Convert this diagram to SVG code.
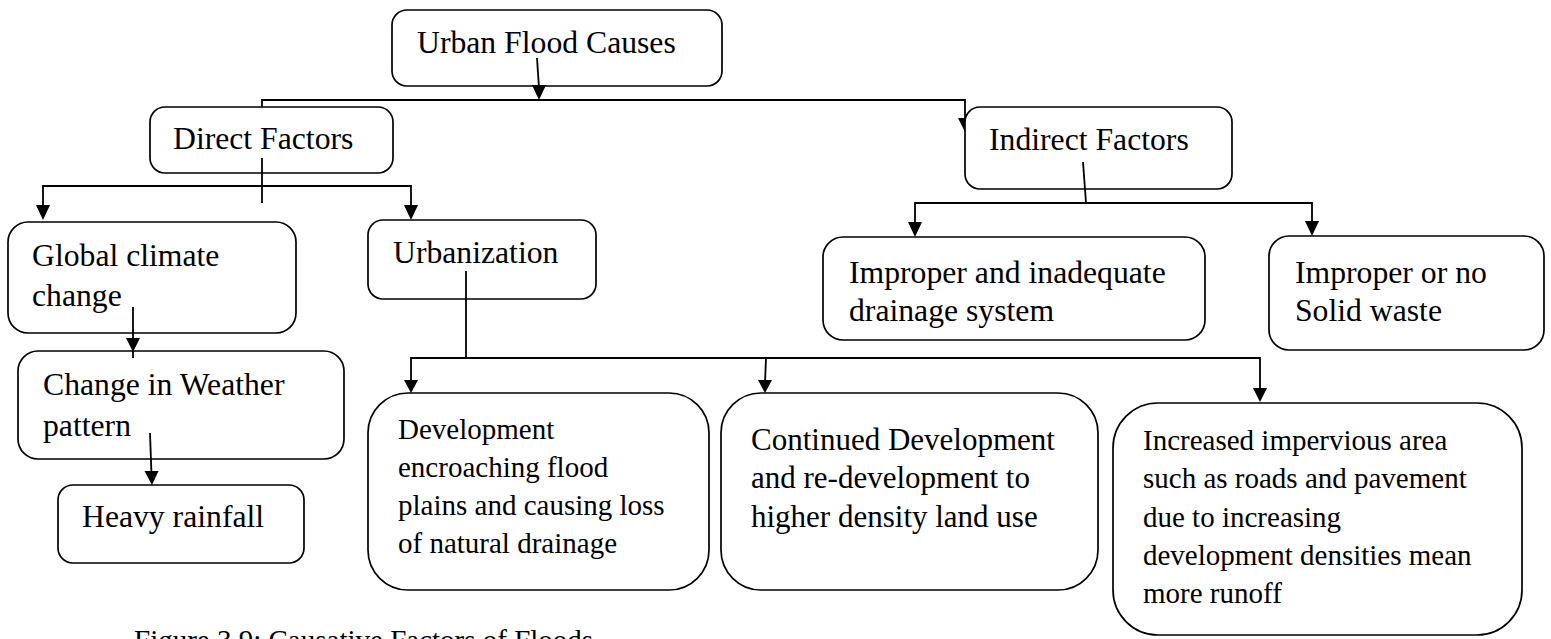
<svg xmlns="http://www.w3.org/2000/svg" width="1551" height="639" viewBox="0 0 1551 639">
<style>
  .box { fill: #ffffff; stroke: #000000; stroke-width: 1.7; }
  .t { font-family: "Liberation Serif", "Times New Roman", serif; font-size: 31.7px; fill: #000000; }
  .t2 { font-family: "Liberation Serif", "Times New Roman", serif; font-size: 29px; fill: #000000; }
  .t3 { font-family: "Liberation Serif", "Times New Roman", serif; font-size: 29px; fill: #000000; }
  .t4 { font-family: "Liberation Serif", "Times New Roman", serif; font-size: 31px; fill: #000000; }
  .cap { font-family: "Liberation Serif", "Times New Roman", serif; font-size: 29px; fill: #000000; }
  .c { fill: none; stroke: #000000; stroke-width: 1.8; }
  .ah { fill: #000000; stroke: none; }
</style>
<rect width="1551" height="639" fill="#ffffff"/>

<g id="node-urban-flood-causes">
  <rect class="box" x="392" y="10" width="330" height="76" rx="15"/>
  <text class="t" x="417" y="53">Urban Flood Causes</text>
</g>
<g id="node-direct-factors">
  <rect class="box" x="150" y="107" width="243" height="66" rx="15"/>
  <text class="t" x="173" y="149">Direct Factors</text>
</g>
<g id="node-indirect-factors">
  <rect class="box" x="965" y="107" width="267" height="82" rx="15"/>
  <text class="t" x="989" y="150">Indirect Factors</text>
</g>
<g id="node-global-climate">
  <rect class="box" x="8" y="222" width="288" height="111" rx="20"/>
  <text class="t" x="32" y="266">Global climate</text>
  <text class="t" x="32" y="306">change</text>
</g>
<g id="node-urbanization">
  <rect class="box" x="368" y="220" width="228" height="79" rx="15"/>
  <text class="t" x="393" y="263">Urbanization</text>
</g>
<g id="node-drainage">
  <rect class="box" x="823" y="237" width="382" height="103" rx="20"/>
  <text class="t" x="849" y="283">Improper and inadequate</text>
  <text class="t" x="849" y="321">drainage system</text>
</g>
<g id="node-solid-waste">
  <rect class="box" x="1269" y="236" width="275" height="114" rx="20"/>
  <text class="t" x="1295" y="283">Improper or no</text>
  <text class="t" x="1295" y="321">Solid waste</text>
</g>
<g id="node-weather">
  <rect class="box" x="18" y="351" width="326" height="108" rx="20"/>
  <text class="t" x="43" y="395">Change in Weather</text>
  <text class="t" x="43" y="436">pattern</text>
</g>
<g id="node-heavy-rainfall">
  <rect class="box" x="58" y="485" width="246" height="78" rx="15"/>
  <text class="t" x="82" y="527">Heavy rainfall</text>
</g>
<g id="node-development">
  <rect class="box" x="368" y="393" width="341" height="197" rx="40"/>
  <text class="t2" x="398" y="439">Development</text>
  <text class="t2" x="398" y="477">encroaching flood</text>
  <text class="t2" x="398" y="515">plains and causing loss</text>
  <text class="t2" x="398" y="553">of natural drainage</text>
</g>
<g id="node-continued">
  <rect class="box" x="721" y="393" width="377" height="197" rx="40"/>
  <text class="t4" x="751" y="450">Continued Development</text>
  <text class="t4" x="751" y="488">and re-development to</text>
  <text class="t4" x="751" y="527">higher density land use</text>
</g>
<g id="node-impervious">
  <rect class="box" x="1113" y="403" width="409" height="232" rx="45"/>
  <text class="t3" x="1143" y="450">Increased impervious area</text>
  <text class="t3" x="1143" y="488">such as roads and pavement</text>
  <text class="t3" x="1143" y="527">due to increasing</text>
  <text class="t3" x="1143" y="565">development densities mean</text>
  <text class="t3" x="1143" y="603">more runoff</text>
</g>

<g id="connectors">
  <line class="c" x1="537" y1="58" x2="539" y2="88"/>
  <polygon class="ah" points="532,85 546,85 539,100"/>
  <polyline class="c" points="262,107 262,100 965,100 965,120"/>
  <polygon class="ah" points="958,118 965,118 965,132"/>
  <line class="c" x1="262" y1="158" x2="262" y2="203"/>
  <polyline class="c" points="43,208 43,186 411,186 411,208"/>
  <polygon class="ah" points="36,205 50,205 43,220"/>
  <polygon class="ah" points="404,205 418,205 411,220"/>
  <line class="c" x1="133" y1="307" x2="133" y2="358"/>
  <polygon class="ah" points="126,338 140,338 133,352"/>
  <line class="c" x1="150" y1="433" x2="151.5" y2="475"/>
  <polygon class="ah" points="144.5,471 158.5,471 152,485"/>
  <line class="c" x1="466" y1="271" x2="466" y2="358"/>
  <polyline class="c" points="411,383 411,358 1260,358 1260,390"/>
  <line class="c" x1="766" y1="358" x2="765" y2="383"/>
  <polygon class="ah" points="404,380 418,380 411,393"/>
  <polygon class="ah" points="758,380 772,380 765,393"/>
  <polygon class="ah" points="1253,388 1267,388 1260,402"/>
  <line class="c" x1="1083" y1="162" x2="1086" y2="203"/>
  <polyline class="c" points="915,225 915,203 1312,203 1312,225"/>
  <polygon class="ah" points="908,222 922,222 915,237"/>
  <polygon class="ah" points="1305,221 1319,221 1312,236"/>
</g>

<text class="cap" x="134" y="650">Figure 3.9: Causative Factors of Floods</text>
</svg>
